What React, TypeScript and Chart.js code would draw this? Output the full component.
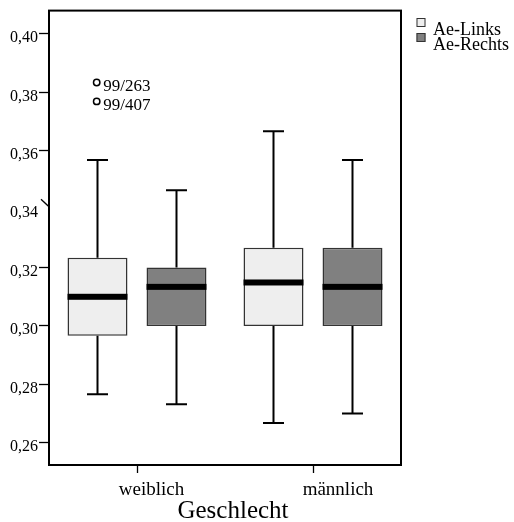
import React, { useEffect, useRef } from 'react';
import { Chart, registerables } from 'chart.js';

Chart.register(...registerables);

const categories = ['weiblich', 'männlich'];
const seriesNames = ['Ae-Links', 'Ae-Rechts'];
const axisTitle = 'Geschlecht';

const linksMin = [0.2766, 0.2668];
const linksQ1 = [0.2967, 0.3];
const linksMedian = [0.31, 0.3149];
const linksQ3 = [0.3234, 0.3268];
const linksMax = [0.3568, 0.3667];

const rechtsMin = [0.2732, 0.27];
const rechtsQ1 = [0.3, 0.3];
const rechtsMedian = [0.3134, 0.3134];
const rechtsQ3 = [0.32, 0.3268];
const rechtsMax = [0.3465, 0.3568];

const outlierValues = [0.3834, 0.3769];
const outlierLabels = ['99/263', '99/407'];
const outlierSeries = [0, 0];
const outlierCategory = [0, 0];

const tickValues = [0.26, 0.28, 0.3, 0.32, 0.34, 0.36, 0.38, 0.4];
const tickLabels = ['0,26', '0,28', '0,30', '0,32', '0,34', '0,36', '0,38', '0,40'];
const yMin = 0.2524;
const yMax = 0.408;

const FONT = '"Liberation Serif", "Times New Roman", serif';
const fills = ['#eeeeee', '#808080'];
const boxBorder = '#333333';
const catLabelShift = [14.5, 25];

const q1s = [linksQ1, rechtsQ1];
const q3s = [linksQ3, rechtsQ3];
const mins = [linksMin, rechtsMin];
const maxs = [linksMax, rechtsMax];
const medians = [linksMedian, rechtsMedian];

const boxPlugin = {
  id: 'boxExtras',
  afterDatasetsDraw(chart: any) {
    const ctx = chart.ctx;
    const ys = chart.scales.y;
    ctx.save();
    chart.data.datasets.forEach((ds: any, si: number) => {
      const meta = chart.getDatasetMeta(si);
      meta.data.forEach((bar: any, i: number) => {
        const { x, width } = bar.getProps(['x', 'width'], true);
        const yQ1 = ys.getPixelForValue(q1s[si][i]);
        const yQ3 = ys.getPixelForValue(q3s[si][i]);
        const yMn = ys.getPixelForValue(mins[si][i]);
        const yMx = ys.getPixelForValue(maxs[si][i]);
        const yMd = ys.getPixelForValue(medians[si][i]);
        ctx.strokeStyle = '#000';
        ctx.lineWidth = 2;
        ctx.beginPath();
        ctx.moveTo(x, yQ3);
        ctx.lineTo(x, yMx);
        ctx.moveTo(x - 10.5, yMx);
        ctx.lineTo(x + 10.5, yMx);
        ctx.moveTo(x, yQ1);
        ctx.lineTo(x, yMn);
        ctx.moveTo(x - 10.5, yMn);
        ctx.lineTo(x + 10.5, yMn);
        ctx.stroke();
        ctx.fillStyle = '#000';
        ctx.fillRect(x - width / 2, yMd - 3, width, 6);
      });
    });
    // outliers
    outlierValues.forEach((v, k) => {
      const meta = chart.getDatasetMeta(outlierSeries[k]);
      const bar = meta.data[outlierCategory[k]];
      const { x } = bar.getProps(['x'], true);
      const yy = ys.getPixelForValue(v);
      ctx.beginPath();
      ctx.arc(x - 0.8, yy, 3.2, 0, Math.PI * 2);
      ctx.fillStyle = '#fff';
      ctx.fill();
      ctx.lineWidth = 1.5;
      ctx.strokeStyle = '#000';
      ctx.stroke();
      ctx.fillStyle = '#000';
      ctx.font = `17px ${FONT}`;
      ctx.textAlign = 'left';
      ctx.textBaseline = 'alphabetic';
      ctx.fillText(outlierLabels[k], x + 5.8, yy + 9);
    });
    ctx.restore();
  },
  afterDraw(chart: any) {
    const ctx = chart.ctx;
    const a = chart.chartArea;
    const ys = chart.scales.y;
    const xs = chart.scales.x;
    ctx.save();
    ctx.strokeStyle = '#000';
    ctx.lineWidth = 2;
    ctx.strokeRect(a.left, a.top, a.right - a.left, a.bottom - a.top);
    // slanted tick at 0,34
    const y34 = ys.getPixelForValue(tickValues[4]);
    ctx.lineWidth = 1.3;
    ctx.beginPath();
    ctx.moveTo(a.left - 8, y34 - 10);
    ctx.lineTo(a.left, y34 - 2.5);
    ctx.stroke();
    // category labels
    ctx.fillStyle = '#000';
    ctx.textAlign = 'center';
    ctx.textBaseline = 'alphabetic';
    ctx.font = `19px ${FONT}`;
    categories.forEach((c, i) => {
      ctx.fillText(c, xs.getPixelForValue(i) + catLabelShift[i], a.bottom + 30);
    });
    // axis title
    ctx.font = `25px ${FONT}`;
    ctx.fillText(axisTitle, (a.left + a.right) / 2 + 8, a.bottom + 53);
    // legend
    seriesNames.forEach((name, si) => {
      const sx = a.right + 15.5;
      const sy = 18 + si * 15;
      ctx.fillStyle = fills[si];
      ctx.fillRect(sx, sy, 9, 9);
      ctx.strokeStyle = boxBorder;
      ctx.lineWidth = 1;
      ctx.strokeRect(sx + 0.5, sy + 0.5, 8, 8);
      ctx.fillStyle = '#000';
      ctx.font = `18px ${FONT}`;
      ctx.textAlign = 'left';
      ctx.textBaseline = 'alphabetic';
      ctx.fillText(name, a.right + 32, 34.5 + si * 15);
    });
    ctx.restore();
  },
};

export default function App() {
  const ref = useRef<HTMLCanvasElement | null>(null);
  useEffect(() => {
    if (!ref.current) return;
    const chart = new Chart(ref.current, {
      type: 'bar',
      data: {
        labels: categories,
        datasets: seriesNames.map((name, si) => ({
          label: name,
          data: categories.map((_, i) => [q1s[si][i], q3s[si][i]]),
          backgroundColor: fills[si],
          borderColor: boxBorder,
          borderWidth: 1.5,
          borderSkipped: false,
          categoryPercentage: 0.8977,
          barPercentage: 0.759,
        })) as any,
      },
      options: {
        animation: false,
        responsive: false,
        devicePixelRatio: 1,
        layout: { padding: { left: 0, top: 9, right: 113, bottom: 0 } },
        plugins: { legend: { display: false }, tooltip: { enabled: false } },
        scales: {
          x: {
            offset: true,
            afterFit: (s: any) => {
              s.height = 57;
            },
            ticks: { display: false },
            grid: { drawOnChartArea: false, offset: false, tickLength: 8, tickColor: '#000', tickWidth: 1.3 },
            border: { display: true, color: '#000', width: 2 },
          },
          y: {
            min: yMin,
            max: yMax,
            afterBuildTicks: (s: any) => {
              s.ticks = tickValues.map((v) => ({ value: v }));
            },
            afterFit: (s: any) => {
              s.width = 49;
            },
            ticks: {
              callback: (_v: any, i: number) => tickLabels[i],
              font: { family: FONT, size: 16 },
              color: '#000',
              padding: 1,
              labelOffset: 4,
            },
            grid: {
              drawOnChartArea: false,
              tickLength: 10,
              tickWidth: 1.3,
              tickColor: (c: any) =>
                c.tick && Math.abs(c.tick.value - tickValues[4]) < 1e-6 ? 'rgba(0,0,0,0)' : '#000',
            },
            border: { display: true, color: '#000', width: 2 },
          },
        },
      },
      plugins: [boxPlugin],
    });
    return () => chart.destroy();
  }, []);
  return (
    <div style={{ position: 'fixed', left: 0, top: 0, width: 514, height: 522, background: '#fff' }}>
      <canvas ref={ref} width={514} height={522} />
    </div>
  );
}
